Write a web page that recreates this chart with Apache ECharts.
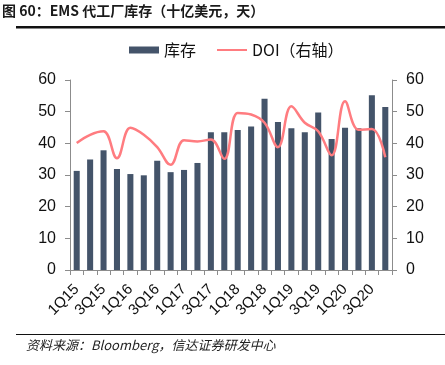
<!DOCTYPE html>
<html>
<head>
<meta charset="utf-8">
<script src="https://cdn.jsdelivr.net/npm/echarts@6/dist/echarts.min.js"></script>
<style>
  html, body { margin: 0; padding: 0; background: #fff; }
  #chart { width: 445px; height: 365px; }
</style>
</head>
<body>
<div id="chart"></div>
<script>
const quarters = ['1Q15','2Q15','3Q15','4Q15','1Q16','2Q16','3Q16','4Q16','1Q17','2Q17','3Q17','4Q17',
  '1Q18','2Q18','3Q18','4Q18','1Q19','2Q19','3Q19','4Q19','1Q20','2Q20','3Q20','4Q20']
const inventory = [31.3, 34.9, 37.8, 31.9, 30.3, 29.9, 34.5, 30.9, 31.6, 33.8, 43.5, 43.5,
  44.2, 45.3, 54.1, 46.7, 44.8, 43.5, 49.7, 41.4, 44.9, 44.8, 55.2, 51.5]
const doi = [40.1, 42.7, 43.8, 35.3, 44.9, 42.7, 38.8, 33.2, 41.0, 40.6, 41.2, 35.1,
  49.6, 49.1, 46.5, 38.8, 51.7, 46.5, 43.8, 36.2, 53.3, 44.3, 44.5, 35.6]
const yTicks = [0, 10, 20, 30, 40, 50, 60]

const chart = echarts.init(document.getElementById('chart'))

const axisLine = { show: true, lineStyle: { color: '#8c8c8c' } }
const valueAxis = (pos) => ({
  type: 'value',
  position: pos,
  min: yTicks[0],
  max: yTicks[yTicks.length - 1],
  interval: 10,
  axisLine: axisLine,
  axisTick: { show: true, length: 5, lineStyle: { color: '#8c8c8c' } },
  splitLine: { show: false },
  axisLabel: { color: '#111', fontSize: 16, fontFamily: 'Liberation Sans', margin: 14 }
})

chart.setOption({
  animation: false,
  textStyle: { fontFamily: 'Liberation Sans, Noto Sans CJK SC' },
  legend: {
    top: 37,
    left: 124,
    itemGap: 20,
    itemWidth: 30,
    itemHeight: 7,
    textStyle: { fontSize: 16, color: '#111', fontFamily: 'Noto Sans CJK SC' },
    data: [
      { name: '库存', icon: 'rect', itemStyle: { color: '#44546a' } },
      { name: 'DOI（右轴）', itemStyle: { opacity: 0 } }
    ]
  },
  grid: { left: 70, right: 53, top: 80, bottom: 95 },
  xAxis: {
    type: 'category',
    data: quarters,
    boundaryGap: true,
    axisLine: axisLine,
    axisTick: { show: true, interval: 0, length: 5, lineStyle: { color: '#8c8c8c' } },
    axisLabel: { interval: 1, rotate: 45, fontSize: 15, color: '#111', fontFamily: 'Liberation Sans', margin: 17 }
  },
  yAxis: [valueAxis('left'), valueAxis('right')],
  series: [
    {
      name: '库存',
      type: 'bar',
      data: inventory,
      barWidth: '45%',
      itemStyle: { color: '#44546a' }
    },
    {
      name: 'DOI（右轴）',
      type: 'line',
      yAxisIndex: 1,
      data: doi,
      smooth: 0.4,
      symbol: 'none',
      lineStyle: { color: '#ff7c80', width: 2.5 },
      itemStyle: { color: '#ff7c80' }
    }
  ],
  graphic: [
    {
      type: 'text', left: 2, top: 4,
      style: { text: '图 60：EMS 代工厂库存（十亿美元，天）', fontSize: 14, fontWeight: 'bold',
        fill: '#1a1a1a', fontFamily: 'Noto Sans CJK SC' }
    },
    { type: 'rect', shape: { x: 16, y: 26, width: 429, height: 2.5 }, style: { fill: '#111' } },
    { type: 'rect', shape: { x: 16, y: 334, width: 429, height: 1 }, style: { fill: '#111' } },
    {
      type: 'text', left: 26, top: 339,
      style: { text: '资料来源：Bloomberg，信达证券研发中心', fontSize: 13, fontStyle: 'italic',
        fill: '#222', fontFamily: 'Noto Sans CJK SC' }
    }
  ]
})
</script>
</body>
</html>
